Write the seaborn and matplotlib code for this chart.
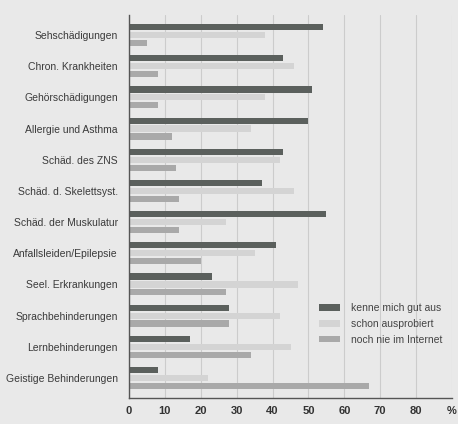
import pandas as pd
import matplotlib
matplotlib.use("Agg")
import matplotlib.pyplot as plt
import seaborn as sns

# --- data (percent) ---
categories = [
    "Sehschädigungen", "Chron. Krankheiten", "Gehörschädigungen",
    "Allergie und Asthma", "Schäd. des ZNS", "Schäd. d. Skelettsyst.",
    "Schäd. der Muskulatur", "Anfallsleiden/Epilepsie", "Seel. Erkrankungen",
    "Sprachbehinderungen", "Lernbehinderungen", "Geistige Behinderungen",
]
kenne_gut = [54, 43, 51, 50, 43, 37, 55, 41, 23, 28, 17, 8]
ausprobiert = [38, 46, 38, 34, 42, 46, 27, 35, 47, 42, 45, 22]
nie_internet = [5, 8, 8, 12, 13, 14, 14, 20, 27, 28, 34, 67]
series_names = ["kenne mich gut aus", "schon ausprobiert", "noch nie im Internet"]
x_ticks = [0, 10, 20, 30, 40, 50, 60, 70, 80, 90]
x_ticklabels = ["0", "10", "20", "30", "40", "50", "60", "70", "80", "%"]

df = pd.DataFrame({
    "Kategorie": categories * 3,
    "Wert": kenne_gut + ausprobiert + nie_internet,
    "Gruppe": [series_names[0]] * 12 + [series_names[1]] * 12 + [series_names[2]] * 12,
})

sns.set_style("white")
plt.rcParams["font.family"] = ["Liberation Sans", "DejaVu Sans"]

bg = "#e9e9e9"
palette = {series_names[0]: "#5b605d", series_names[1]: "#d4d4d4", series_names[2]: "#a9a9a9"}

fig = plt.figure(figsize=(4.58, 4.24), dpi=100, facecolor=bg)
ax = fig.add_axes([129 / 458, 1 - 398 / 424, (452 - 129) / 458, (398 - 15) / 424])
ax.set_facecolor(bg)

sns.barplot(data=df, y="Kategorie", x="Wert", hue="Gruppe", order=categories,
            hue_order=series_names, palette=palette, orient="h",
            width=0.76, gap=0.22, saturation=1, ax=ax, linewidth=0)

ax.set_xlim(0, 90)
ax.set_ylim(11.64, -0.64)
ax.set_xticks(x_ticks)
ax.set_xticklabels(x_ticklabels, fontweight="bold", fontsize=8, color="#333333")
ax.tick_params(axis="y", labelsize=7.5, labelcolor="#3a3a3a", length=0, pad=8)
ax.tick_params(axis="x", length=0, pad=6)
ax.set_xlabel("")
ax.set_ylabel("")
ax.set_axisbelow(True)
ax.xaxis.grid(True, color="#cccccc", linewidth=0.8)
ax.yaxis.grid(False)

for side in ["top", "right"]:
    ax.spines[side].set_visible(False)
for side in ["left", "bottom"]:
    ax.spines[side].set_color("#555555")
    ax.spines[side].set_linewidth(1.0)

leg = ax.legend(loc="upper left", bbox_to_anchor=(0.56, 0.272), frameon=False,
                fontsize=7.5, handlelength=2.0, handleheight=0.6,
                handletextpad=1.0, labelspacing=0.55)
for t in leg.get_texts():
    t.set_color("#444444")

plt.savefig("out.png", dpi=100, facecolor=bg)
plt.close()
